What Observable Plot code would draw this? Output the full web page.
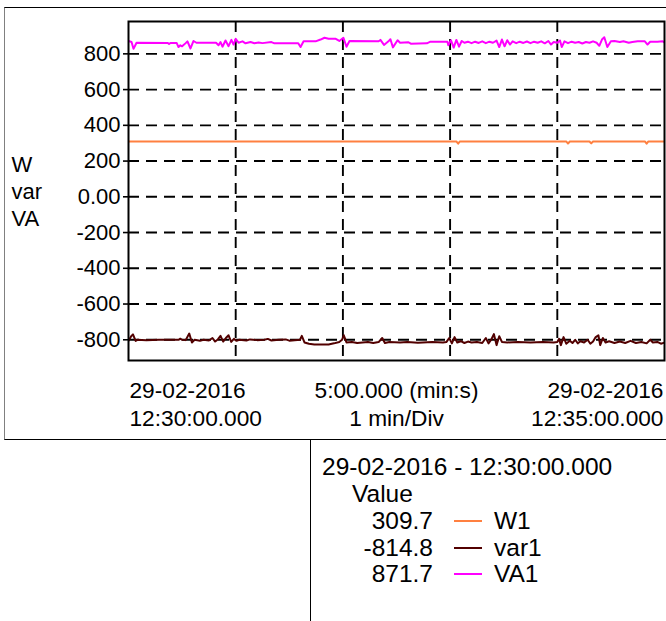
<!DOCTYPE html>
<html><head><meta charset="utf-8">
<script src="https://cdn.jsdelivr.net/npm/d3@7"></script>
<script src="https://cdn.jsdelivr.net/npm/@observablehq/plot@0.6"></script>
<style>
html,body{margin:0;padding:0;background:#fff;}
body{width:666px;height:621px;position:relative;overflow:hidden;font-family:"Liberation Sans",Arial,Helvetica,sans-serif;color:#000;}
#outer{position:absolute;left:4px;top:7px;width:700px;height:433px;border-top:1.5px solid #000;border-left:1.5px solid #808080;border-bottom:1.5px solid #000;box-sizing:border-box;}
#divider{position:absolute;left:309.5px;top:440px;width:0;height:190px;border-left:1.8px solid #000;}
#chart{position:absolute;left:0;top:0;}
.lg{position:absolute;font-size:24.5px;line-height:24.5px;white-space:nowrap;}
.num{text-align:right;width:120px;}
.sw{position:absolute;height:2px;width:28px;}
</style>
</head><body>
<div id="outer"></div>
<div id="divider"></div>
<div id="chart"></div>
<div id="legend"></div>
<script>
// ---- data (time in seconds from 12:30:00) ----
const seriesNames = ["W1", "var1", "VA1"];
const seriesColors = ["#FF8040", "#520000", "#FF00FF"];
const cursorLabel = "29-02-2016 - 12:30:00.000";
const cursorValues = ["309.7", "-814.8", "871.7"];

const w1T = [0,60,120,183.5,184.5,185.5,245,246,247,258,259,260,289,290,291,300];
const w1V = [309.7,309.5,309.8,309.6,297,309.6,309.7,298,309.6,309.7,299,309.6,309.7,297,309.6,309.7];

const var1T = [0,1.5,2.5,4,5,10,17,28,29,30,
  32,34,35.5,37,40,42,45,47,48.5,50,
  51.5,53,54.5,56,57.5,59,60.5,62,66,68,
  72,76,78,80,84,88,90,96,97,98.5,
  101,104,112,115,118,119.5,120.5,122,125,128,
  131,134,137,140,142,143.5,146,152,156,162,
  170,176,178,179.5,181,182.5,184,186,188,190,
  192,195,198,200,201.5,203,204.5,206,207.5,209,
  212,218,225,232,238,240,241,242,243.5,245,
  247,248.5,250,251.5,253,255,257,258.5,260,261.5,
  263,264,265.5,267,269,272,275,278,281,284,
  287,290,292,293.5,296,298,300];
const var1V = [-806,-780,-770,-806,-800,-803,-800,-800,-794,-800,
  -802,-765,-815,-800,-806,-800,-804,-790,-810,-798,
  -778,-810,-790,-775,-812,-795,-806,-800,-804,-798,
  -802,-800,-795,-804,-800,-798,-805,-800,-778,-815,
  -822,-826,-826,-820,-812,-800,-775,-815,-812,-818,
  -815,-812,-818,-813,-790,-818,-812,-815,-812,-816,
  -813,-815,-812,-790,-820,-785,-815,-808,-818,-810,
  -815,-812,-818,-790,-820,-800,-768,-830,-780,-812,
  -815,-813,-815,-813,-815,-812,-795,-830,-785,-822,
  -805,-818,-800,-820,-808,-815,-800,-822,-810,-785,
  -775,-830,-790,-815,-808,-818,-810,-818,-806,-818,
  -812,-820,-800,-815,-812,-822,-816];

const va1T = [0,1.7,2.8,4.5,22,22.7,23.5,27,28,29,30,32,33,34.7,36.4,38,49,50.4,51.5,52.6,54.3,56,57.6,58.8,60,61.6,63.8,65.5,68.3,70.5,72.8,75,80,81.7,95,96.3,98,104.7,107.5,109.7,112,116,118,120.3,122,123.7,140,141,143,145.5,146.6,148,150.6,152,156.7,158,167,169,178.5,179,180.5,182,183.5,185,186.5,188,190,192,194,196,198,200,202,204,206,207.5,209,210.5,212,213.5,215,217,219,221,223,225,227,229,231,233,235,236.5,238,240,241.5,242.5,244,246,248,250,252,254,256,258,260,262,263.5,265,266.3,268,270,272,275,277,280,282,285,289,290.5,292,296,299,300];
const va1V = [872,866,828,862,861,855,861,860,838,848,842,860,870,830,872,862,862,848,866,840,875,843,878,852,884,862,870,859,866,859,863,860,866,859,859,838,870,870,880,890,884,884,872,890,840,872,870,878,850,870,882,836,876,862,865,857,859,868,868,848,876,835,878,840,872,862,868,860,868,861,870,860,868,862,874,838,880,842,876,852,870,860,868,861,869,860,868,862,870,859,872,852,866,862,875,838,870,860,868,862,866,858,866,862,870,862,845,880,893,838,870,872,866,870,862,866,870,870,852,868,868,870,864];

const yTicks = [800,600,400,200,0,-200,-400,-600,-800];
const xGrid = [60,120,180,240];
const xLabelLeft = "29-02-2016\n12:30:00.000";
const xLabelMid = "5:00.000 (min:s)\n1 min/Div";
const xLabelRight = "29-02-2016\n12:35:00.000";
const yUnitLabel = "W\nvar\nVA";

// ---- build tables ----
const toRows = (T, V) => d3.zip(T, V).map(([t, v]) => ({t, v}));
const w1 = toRows(w1T, w1V), var1 = toRows(var1T, var1V), va1 = toRows(va1T, va1V);

const font = '"Liberation Sans", Arial, Helvetica, sans-serif';
const dash = "11,7";
const xl = {frameAnchor: "bottom", lineAnchor: "top", dy: 18, lineHeight: 1.22, fontSize: 22.7, fill: "#000"};
const chart = Plot.plot({
  width: 666, height: 440,
  marginLeft: 128, marginRight: 2, marginTop: 21, marginBottom: 80,
  x: {domain: [0, 300], axis: null},
  y: {domain: [-916, 981], axis: null},
  style: {fontFamily: font, fontSize: "22px", background: "transparent", color: "#000", overflow: "visible"},
  marks: [
    Plot.ruleY(yTicks, {stroke: "#000", strokeWidth: 1.9, strokeDasharray: dash}),
    Plot.ruleX(xGrid, {stroke: "#000", strokeWidth: 1.9, strokeDasharray: dash}),
    Plot.line(w1, {x: "t", y: "v", stroke: seriesColors[0], strokeWidth: 2, clip: true}),
    Plot.line(var1, {x: "t", y: "v", stroke: seriesColors[1], strokeWidth: 2, clip: true}),
    Plot.line(va1, {x: "t", y: "v", stroke: seriesColors[2], strokeWidth: 2, clip: true}),
    Plot.frame({stroke: "#000", strokeWidth: 2}),
    Plot.axisY(yTicks, {label: null, tickSize: 5, tickPadding: 3, strokeWidth: 1.6, fontSize: 22,
      tickFormat: d => d === 0 ? "0.00" : String(d)}),
    Plot.text([yUnitLabel], {frameAnchor: "left", textAnchor: "start", dx: -117, dy: -1, lineHeight: 1.23, fontSize: 22, fill: "#000"}),
    Plot.text([0], {...xl, x: d => d, textAnchor: "start", dx: 1, text: () => xLabelLeft}),
    Plot.text([150], {...xl, x: d => d, textAnchor: "middle", text: () => xLabelMid}),
    Plot.text([300], {...xl, x: d => d, textAnchor: "end", dx: -1, text: () => xLabelRight})
  ]
});
document.getElementById("chart").appendChild(chart);

// ---- legend ----
const lg = document.getElementById("legend");
function addText(txt, left, baseline, cls) {
  const d = document.createElement("div");
  d.className = "lg" + (cls ? " " + cls : "");
  d.textContent = txt;
  d.style.left = left + "px";
  d.style.top = (baseline - 20.7) + "px";
  lg.appendChild(d);
}
addText(cursorLabel, 322, 476);
addText("Value", 352, 503);
const rowBase = [530, 556.5, 583];
seriesNames.forEach((name, i) => {
  addText(cursorValues[i], 313, rowBase[i], "num");
  const s = document.createElement("div");
  s.className = "sw";
  s.style.left = "454px";
  s.style.top = (rowBase[i] - 10) + "px";
  s.style.background = seriesColors[i];
  lg.appendChild(s);
  addText(name, 494, rowBase[i]);
});
</script>
</body></html>
